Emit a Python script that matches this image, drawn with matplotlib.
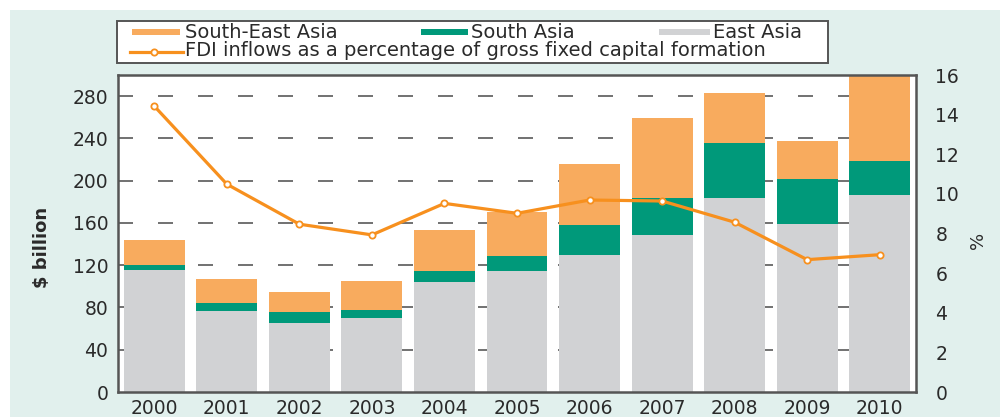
import matplotlib
matplotlib.use("Agg")
import matplotlib.pyplot as plt
from matplotlib.patches import Rectangle
from matplotlib.lines import Line2D

years = ["2000", "2001", "2002", "2003", "2004", "2005", "2006", "2007", "2008", "2009", "2010"]
east_asia = [115, 77, 65.5, 70, 104, 114.5, 130, 148.5, 183.5, 159, 186]
south_asia = [5, 7, 10.5, 8, 10.5, 14, 28, 35, 52.5, 43, 32.5]
south_east_asia = [24, 23, 18.5, 27, 38.5, 42, 58, 76, 46.5, 36, 85]
fdi_pct = [14.43, 10.49, 8.47, 7.93, 9.52, 9.02, 9.69, 9.64, 8.57, 6.68, 6.93]

left_ticks = [0, 40, 80, 120, 160, 200, 240, 280]
right_ticks = [0, 2, 4, 6, 8, 10, 12, 14, 16]

C_SE = "#f8ab5e"
C_S = "#00997a"
C_E = "#d1d2d4"
C_LINE = "#f7901e"
C_BG = "#e1f0ed"
C_AX = "#555555"
C_TXT = "#2a2a2a"

W, H = 1006, 417
plt.rcParams['font.family'] = ['DejaVu Sans']
plt.rcParams['lines.scale_dashes'] = False
fig = plt.figure(figsize=(W / 100, H / 100), dpi=100)

def fx(x):
    return x / W

def fy(y):
    return 1 - y / H

# teal background panel
fig.patches.append(Rectangle((fx(10), 0), fx(990), fy(10), transform=fig.transFigure,
                             facecolor=C_BG, edgecolor='none', zorder=-10))

ax_l, ax_r, ax_t, ax_b = 118, 916, 75, 392
ax = fig.add_axes([fx(ax_l), fy(ax_b), fx(ax_r - ax_l), (ax_b - ax_t) / H])
ax.set_facecolor('white')

x = list(range(len(years)))
bw = 0.84
ax.bar(x, east_asia, bw, color=C_E, zorder=2)
ax.bar(x, south_asia, bw, bottom=east_asia, color=C_S, zorder=2)
bot2 = [a + b for a, b in zip(east_asia, south_asia)]
ax.bar(x, south_east_asia, bw, bottom=bot2, color=C_SE, zorder=2)

ax.set_xlim(-0.5, len(years) - 0.5)
ax.set_ylim(0, 300)
ax.set_xticks(x)
ax.set_xticklabels(years)
ax.set_yticks(left_ticks)
for t in left_ticks[1:]:
    ax.axhline(t, color="#4a4a4a", lw=1.1, zorder=1,
               linestyle=(0, (10.8, 18.0)))

for s in ax.spines.values():
    s.set_color(C_AX)
    s.set_linewidth(1.8)
ax.tick_params(axis='y', length=0, labelsize=13.5, labelcolor=C_TXT, pad=7)
ax.tick_params(axis='x', length=0, labelsize=13.5, labelcolor=C_TXT, pad=5)

ax2 = ax.twinx()
ax2.set_ylim(0, 16)
ax2.set_yticks(right_ticks)
ax2.plot(x, fdi_pct, color=C_LINE, lw=2.3, marker='o', markersize=4.5,
         markerfacecolor='white', markeredgecolor=C_LINE, markeredgewidth=1.3, zorder=5)
ax2.tick_params(axis='y', length=0, labelsize=13.5, labelcolor=C_TXT, pad=14)
for s in ax2.spines.values():
    s.set_visible(False)

fig.text(fx(42), fy(247), "$ billion", rotation=90, ha='center', va='center',
         fontsize=13, color=C_TXT, fontweight='semibold')
fig.text(fx(978), fy(240), "%", rotation=90, ha='center', va='center',
         fontsize=13, color=C_TXT)

# custom legend box
fig.patches.append(Rectangle((fx(117), fy(63)), fx(828 - 117), (63 - 21) / H,
                             transform=fig.transFigure, facecolor='white',
                             edgecolor=C_AX, linewidth=1.4, zorder=5))
leg_items = [(132, 180, 185, C_SE, "South-East Asia"),
             (421, 468, 471, C_S, "South Asia"),
             (659, 710, 713, C_E, "East Asia")]
for x0, x1, xt, col, lab in leg_items:
    fig.patches.append(Rectangle((fx(x0), fy(35)), fx(x1 - x0), 6 / H,
                                 transform=fig.transFigure, facecolor=col,
                                 edgecolor='none', zorder=6))
    fig.text(fx(xt), fy(32), lab, ha='left', va='center', fontsize=14,
             color=C_TXT, zorder=7)
fig.lines.append(Line2D([fx(130), fx(183)], [fy(52), fy(52)], transform=fig.transFigure,
                        color=C_LINE, lw=2.3, zorder=6))
fig.lines.append(Line2D([fx(154)], [fy(52)], transform=fig.transFigure, marker='o',
                        markersize=4.5, markerfacecolor='white', markeredgecolor=C_LINE,
                        markeredgewidth=1.3, color=C_LINE, zorder=7))
fig.text(fx(185), fy(51), "FDI inflows as a percentage of gross fixed capital formation",
         ha='left', va='center', fontsize=14, color=C_TXT, zorder=7)

fig.savefig("out.png", dpi=100)
